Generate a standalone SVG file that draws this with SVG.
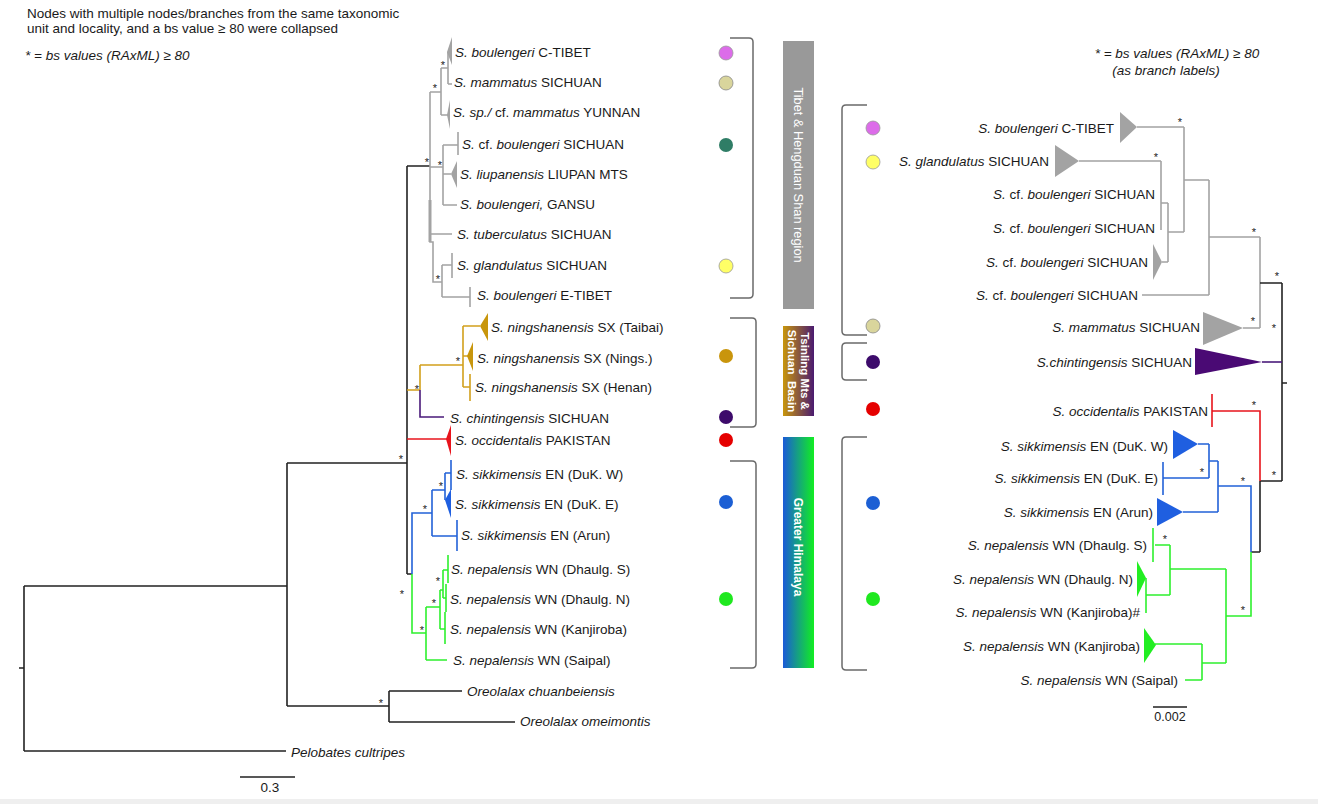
<svg xmlns="http://www.w3.org/2000/svg" width="1318" height="804" viewBox="0 0 1318 804">
<style>
text{font-family:"Liberation Sans",Arial,sans-serif;font-size:13.5px;fill:#1a1a1a}
.i{font-style:italic}
.e{text-anchor:end}
.m{text-anchor:middle}
.st{font-size:11px;text-anchor:middle;fill:#222}
path{fill:none;stroke-width:1.6}
.k{stroke:#222}
.g{stroke:#a3a3a3}
.go{stroke:#d2a01c}
.pu{stroke:#4a1a7a}
.rd{stroke:#e8141c}
.bl{stroke:#2262d8}
.gr{stroke:#2ef02e}
.fg{fill:#a3a3a3}
.fgo{fill:#c8960c}
.fbl{fill:#1f5fe0}
.fgr{fill:#22ee22}
.fpu{fill:#4a0a74}
.frd{fill:#e8141c}
.br{stroke:#6a6a6a;stroke-width:1.5;fill:none}
.bar{fill:#fff;font-size:12px;font-weight:bold}
.bar2{fill:#fff;font-size:11.5px;font-weight:bold}
</style>
<defs>
<linearGradient id="gTs" x1="0" y1="0" x2="1" y2="0"><stop offset="0" stop-color="#c8960c"/><stop offset="1" stop-color="#4a1a70"/></linearGradient>
<linearGradient id="gHi" x1="0" y1="0" x2="1" y2="0"><stop offset="0" stop-color="#1a5ad8"/><stop offset="1" stop-color="#11ee22"/></linearGradient>
</defs>
<rect x="0" y="0" width="1318" height="804" fill="#fff"/>
<rect x="0" y="799" width="1318" height="5" fill="#efefef"/>

<g id="notes">
<text x="27" y="18">Nodes with multiple nodes/branches from the same taxonomic</text>
<text x="27" y="33">unit and locality, and a bs value ≥ 80 were collapsed</text>
<text x="25" y="60" class="i">* = bs values (RAxML) ≥ 80</text>
<text x="1177" y="58" class="i m">* = bs values (RAxML) ≥ 80</text>
<text x="1166" y="75" class="i m">(as branch labels)</text>
</g>

<g id="connectors">
<path class="k" d="M24,586V751M19,668H24M24,586H287M24,751H286M287,463V706M287,463H407M287,706H389M389,691V722M389,691H462M389,722H515M407,166V574M407,166H430M407,574H412"/>
<path class="g" d="M430,92V242H433V282H442M430,92H441M441,68V115M441,68H448M448,52V84M448,84H452M441,115H448M430,167H443M443,145V205M443,145H458M458,132V155M443,174H451M443,205H457M430,234H452M442,265V297M442,265H452M452,253V278M442,297H470M470,287V307"/>
<path class="g" d="M430,200V242" style="stroke-width:3"/>
<polygon class="fg" points="447,52 452,37 452,65"/>
<polygon class="fg" points="447,115 450,100 450,129"/>
<polygon class="fg" points="451,174 457,161 457,188"/>
<path class="go" d="M407,390H420M420,365V390M420,365H463M463,326V387M463,326H480M463,356H468M463,387H470M470,374V401"/>
<polygon class="fgo" points="480,326 488,313 488,341"/>
<polygon class="fgo" points="467,356 473,342 473,371"/>
<path class="pu" d="M420,390V417H444"/>
<path class="rd" d="M407,439H448"/>
<polygon class="frd" points="446,439 451,425 451,456"/>
<path class="bl" d="M412,574V513H432M432,490V536M432,536H457M457,520V551M432,490H445M445,473V500M445,473H451M451,460V490"/>
<polygon class="fbl" points="445,500 451,489 451,518"/>
<path class="gr" d="M412,574V633H426M426,607V660M426,660H447M426,607H440M440,590V629M440,629H445M445,612V644M440,590H443M443,570V598M443,570H448M448,555V583M443,598H446M446,584V612"/>

<path class="g" d="M1137,127H1184M1079,161H1161M1161,161V230M1161,203H1168M1168,203V262M1162,262H1168M1168,232H1184M1184,127V232M1184,180H1209M1209,180V295M1142,295H1209M1209,237H1260M1260,237V328M1243,328H1260"/>
<polygon class="fg" points="1120,112 1137,127 1120,143"/>
<polygon class="fg" points="1055,145 1079,161 1055,177"/>
<polygon class="fg" points="1153,244 1162,262 1153,280"/>
<polygon class="fg" points="1203,312 1243,328 1203,345"/>
<path class="k" d="M1260,283H1282M1282,283V481M1282,383H1287M1260,481H1282M1260,481V552M1251,552H1260"/>
<path class="pu" d="M1262,362H1282"/>
<polygon class="fpu" points="1195,348 1262,362 1195,375"/>
<path class="rd" d="M1212,411H1260V481M1212,394V427"/>
<path class="bl" d="M1251,552V486H1218M1218,461V512M1183,512H1218M1209,461H1218M1209,444V478M1198,444H1209M1163,478H1209M1163,462V495"/>
<polygon class="fbl" points="1157,498 1183,512 1157,526"/>
<polygon class="fbl" points="1173,430 1198,444 1173,459"/>
<path class="gr" d="M1251,552V616H1226M1226,569V663M1202,663H1226M1202,644V680M1155,644H1202M1185,680H1202M1170,569H1226M1170,545V595M1155,545H1170M1153,528V562M1146,595H1170M1146,578V613"/>
<polygon class="fgr" points="1144,628 1156,645 1144,663"/>
<polygon class="fgr" points="1137,561 1146,578 1137,597"/>

<path class="k" d="M240,777H295M1153,707H1187" style="stroke-width:1.4"/>
</g>

<g id="support">
<text class="st" x="443" y="69">*</text>
<text class="st" x="435" y="92">*</text>
<text class="st" x="427" y="166">*</text>
<text class="st" x="440" y="169">*</text>
<text class="st" x="438" y="283">*</text>
<text class="st" x="417" y="393">*</text>
<text class="st" x="458" y="365">*</text>
<text class="st" x="401" y="463">*</text>
<text class="st" x="381" y="707">*</text>
<text class="st" x="402" y="598">*</text>
<text class="st" x="425" y="513">*</text>
<text class="st" x="441" y="490">*</text>
<text class="st" x="438" y="585">*</text>
<text class="st" x="434" y="607">*</text>
<text class="st" x="422" y="634">*</text>
<text class="st" x="1180" y="126">*</text>
<text class="st" x="1156" y="161">*</text>
<text class="st" x="1254" y="236">*</text>
<text class="st" x="1253" y="325">*</text>
<text class="st" x="1277" y="280">*</text>
<text class="st" x="1274" y="332">*</text>
<text class="st" x="1254" y="409">*</text>
<text class="st" x="1274" y="479">*</text>
<text class="st" x="1202" y="476">*</text>
<text class="st" x="1243" y="485">*</text>
<text class="st" x="1165" y="543">*</text>
<text class="st" x="1243" y="614">*</text>
</g>

<g id="left-labels">
<g id="L-ctibet"><text x="455" y="57"><tspan class="i">S. boulengeri</tspan> C-TIBET</text></g>
<g id="L-mammatus"><text x="454" y="87"><tspan class="i">S. mammatus</tspan> SICHUAN</text></g>
<g id="L-sp"><text x="453" y="117"><tspan class="i">S. sp./</tspan> cf. <tspan class="i">mammatus</tspan> YUNNAN</text></g>
<g id="L-cfboul"><text x="462" y="149"><tspan class="i">S.</tspan> cf. <tspan class="i">boulengeri</tspan> SICHUAN</text></g>
<g id="L-liupan"><text x="460" y="179"><tspan class="i">S. liupanensis</tspan> LIUPAN MTS</text></g>
<g id="L-gansu"><text x="460" y="209"><tspan class="i">S. boulengeri,</tspan> GANSU</text></g>
<g id="L-tuberc"><text x="457" y="239"><tspan class="i">S. tuberculatus</tspan> SICHUAN</text></g>
<g id="L-gland"><text x="457" y="270"><tspan class="i">S. glandulatus</tspan> SICHUAN</text></g>
<g id="L-etibet"><text x="477" y="300"><tspan class="i">S. boulengeri</tspan> E-TIBET</text></g>
<g id="L-taibai"><text x="491" y="332"><tspan class="i">S. ningshanensis</tspan> SX (Taibai)</text></g>
<g id="L-nings"><text x="477" y="363"><tspan class="i">S. ningshanensis</tspan> SX (Nings.)</text></g>
<g id="L-henan"><text x="475" y="392"><tspan class="i">S. ningshanensis</tspan> SX (Henan)</text></g>
<g id="L-chint"><text x="450" y="423"><tspan class="i">S. chintingensis</tspan> SICHUAN</text></g>
<g id="L-occid"><text x="455" y="445"><tspan class="i">S. occidentalis</tspan> PAKISTAN</text></g>
<g id="L-dukw"><text x="456" y="479"><tspan class="i">S. sikkimensis</tspan> EN (DuK. W)</text></g>
<g id="L-duke"><text x="455" y="509"><tspan class="i">S. sikkimensis</tspan> EN (DuK. E)</text></g>
<g id="L-arun"><text x="461" y="540"><tspan class="i">S. sikkimensis</tspan> EN (Arun)</text></g>
<g id="L-dhs"><text x="451" y="574"><tspan class="i">S. nepalensis</tspan> WN (Dhaulg. S)</text></g>
<g id="L-dhn"><text x="450" y="604"><tspan class="i">S. nepalensis</tspan> WN (Dhaulg. N)</text></g>
<g id="L-kanj"><text x="450" y="634"><tspan class="i">S. nepalensis</tspan> WN (Kanjiroba)</text></g>
<g id="L-saipal"><text x="453" y="665"><tspan class="i">S. nepalensis</tspan> WN (Saipal)</text></g>
<g id="L-oreo1"><text x="467" y="696" class="i">Oreolalax chuanbeiensis</text></g>
<g id="L-oreo2"><text x="520" y="726" class="i">Oreolalax omeimontis</text></g>
<g id="L-pelo"><text x="291" y="757" class="i">Pelobates cultripes</text></g>
<g id="L-scale"><text x="270" y="792" class="m">0.3</text></g>
</g>

<g id="left-dots">
<circle cx="726" cy="53" r="7" fill="#dc6ce9" stroke="#999" stroke-width="0.8"/>
<circle cx="726" cy="83" r="7" fill="#d9d59c" stroke="#888" stroke-width="0.8"/>
<circle cx="726" cy="145" r="7" fill="#2f7d66"/>
<circle cx="726" cy="266" r="7" fill="#ffff66" stroke="#999" stroke-width="0.8"/>
<circle cx="726" cy="356" r="7" fill="#c9950c"/>
<circle cx="726" cy="417" r="7" fill="#3d0b6b"/>
<circle cx="726" cy="440" r="7" fill="#e50000"/>
<circle cx="726" cy="502" r="7" fill="#1c5fd4"/>
<circle cx="726" cy="599" r="7" fill="#1fe81f"/>
</g>

<g id="left-brackets">
<path class="br" d="M730,38H749Q753,38 753,42V294Q753,298 749,298H730"/>
<path class="br" d="M730,318H752Q756,318 756,322V423Q756,427 752,427H730"/>
<path class="br" d="M730,461H752Q756,461 756,465V664Q756,668 752,668H730"/>
</g>

<g id="region-tibet">
<rect x="783" y="41" width="31" height="268" fill="#999"/>
<text transform="translate(793.5,175) rotate(90)" class="m" style="fill:#fff;font-size:12.8px">Tibet &amp; Hengduan Shan region</text>
</g>
<g id="region-tsinling">
<rect x="783" y="326" width="31" height="90" fill="url(#gTs)"/>
<text transform="translate(801,371) rotate(90)" class="m bar2">Tsinling Mts &amp;</text>
<text transform="translate(788,371) rotate(90)" class="m bar2" xml:space="preserve">Sichuan  Basin</text>
</g>
<g id="region-himalaya">
<rect x="783" y="437" width="31" height="231" fill="url(#gHi)"/>
<text transform="translate(793.7,547) rotate(90)" class="m bar">Greater Himalaya</text>
</g>

<g id="right-brackets">
<path class="br" d="M867,105H846Q842,105 842,109V331Q842,335 846,335H867"/>
<path class="br" d="M867,343H846Q842,343 842,347V376Q842,380 846,380H867"/>
<path class="br" d="M867,437H846Q842,437 842,441V666Q842,670 846,670H867"/>
</g>

<g id="right-dots">
<circle cx="873" cy="128" r="7" fill="#dc6ce9" stroke="#999" stroke-width="0.8"/>
<circle cx="873" cy="162" r="7" fill="#ffff66" stroke="#999" stroke-width="0.8"/>
<circle cx="873" cy="326" r="7" fill="#d9d59c" stroke="#888" stroke-width="0.8"/>
<circle cx="873" cy="362" r="7" fill="#3d0b6b"/>
<circle cx="873" cy="409" r="7" fill="#e50000"/>
<circle cx="873" cy="503" r="7" fill="#1c5fd4"/>
<circle cx="873" cy="599" r="7" fill="#1fe81f"/>
</g>

<g id="right-labels">
<g id="R-ctibet"><text class="e" x="1114" y="133"><tspan class="i">S. boulengeri</tspan> C-TIBET</text></g>
<g id="R-gland"><text class="e" x="1049" y="166"><tspan class="i">S. glandulatus</tspan> SICHUAN</text></g>
<g id="R-cf1"><text class="e" x="1155" y="199"><tspan class="i">S.</tspan> cf. <tspan class="i">boulengeri</tspan> SICHUAN</text></g>
<g id="R-cf2"><text class="e" x="1155" y="233"><tspan class="i">S.</tspan> cf. <tspan class="i">boulengeri</tspan> SICHUAN</text></g>
<g id="R-cf3"><text class="e" x="1148" y="267"><tspan class="i">S.</tspan> cf. <tspan class="i">boulengeri</tspan> SICHUAN</text></g>
<g id="R-cf4"><text class="e" x="1138" y="300"><tspan class="i">S.</tspan> cf. <tspan class="i">boulengeri</tspan> SICHUAN</text></g>
<g id="R-mamm"><text class="e" x="1200" y="332"><tspan class="i">S. mammatus</tspan> SICHUAN</text></g>
<g id="R-chint"><text class="e" x="1192" y="367"><tspan class="i">S.chintingensis</tspan> SICHUAN</text></g>
<g id="R-occid"><text class="e" x="1208" y="416"><tspan class="i">S. occidentalis</tspan> PAKISTAN</text></g>
<g id="R-dukw"><text class="e" x="1168" y="451"><tspan class="i">S. sikkimensis</tspan> EN (DuK. W)</text></g>
<g id="R-duke"><text class="e" x="1158" y="483"><tspan class="i">S. sikkimensis</tspan> EN (DuK. E)</text></g>
<g id="R-arun"><text class="e" x="1153" y="517"><tspan class="i">S. sikkimensis</tspan> EN (Arun)</text></g>
<g id="R-dhs"><text class="e" x="1147" y="550"><tspan class="i">S. nepalensis</tspan> WN (Dhaulg. S)</text></g>
<g id="R-dhn"><text class="e" x="1133" y="584"><tspan class="i">S. nepalensis</tspan> WN (Dhaulg. N)</text></g>
<g id="R-kanj1"><text class="e" x="1140" y="617"><tspan class="i">S. nepalensis</tspan> WN (Kanjiroba)#</text></g>
<g id="R-kanj2"><text class="e" x="1140" y="651"><tspan class="i">S. nepalensis</tspan> WN (Kanjiroba)</text></g>
<g id="R-saipal"><text class="e" x="1178" y="685"><tspan class="i">S. nepalensis</tspan> WN (Saipal)</text></g>
<g id="R-scale"><text class="m" x="1170" y="721" style="font-size:12.5px">0.002</text></g>
</g>
</svg>
